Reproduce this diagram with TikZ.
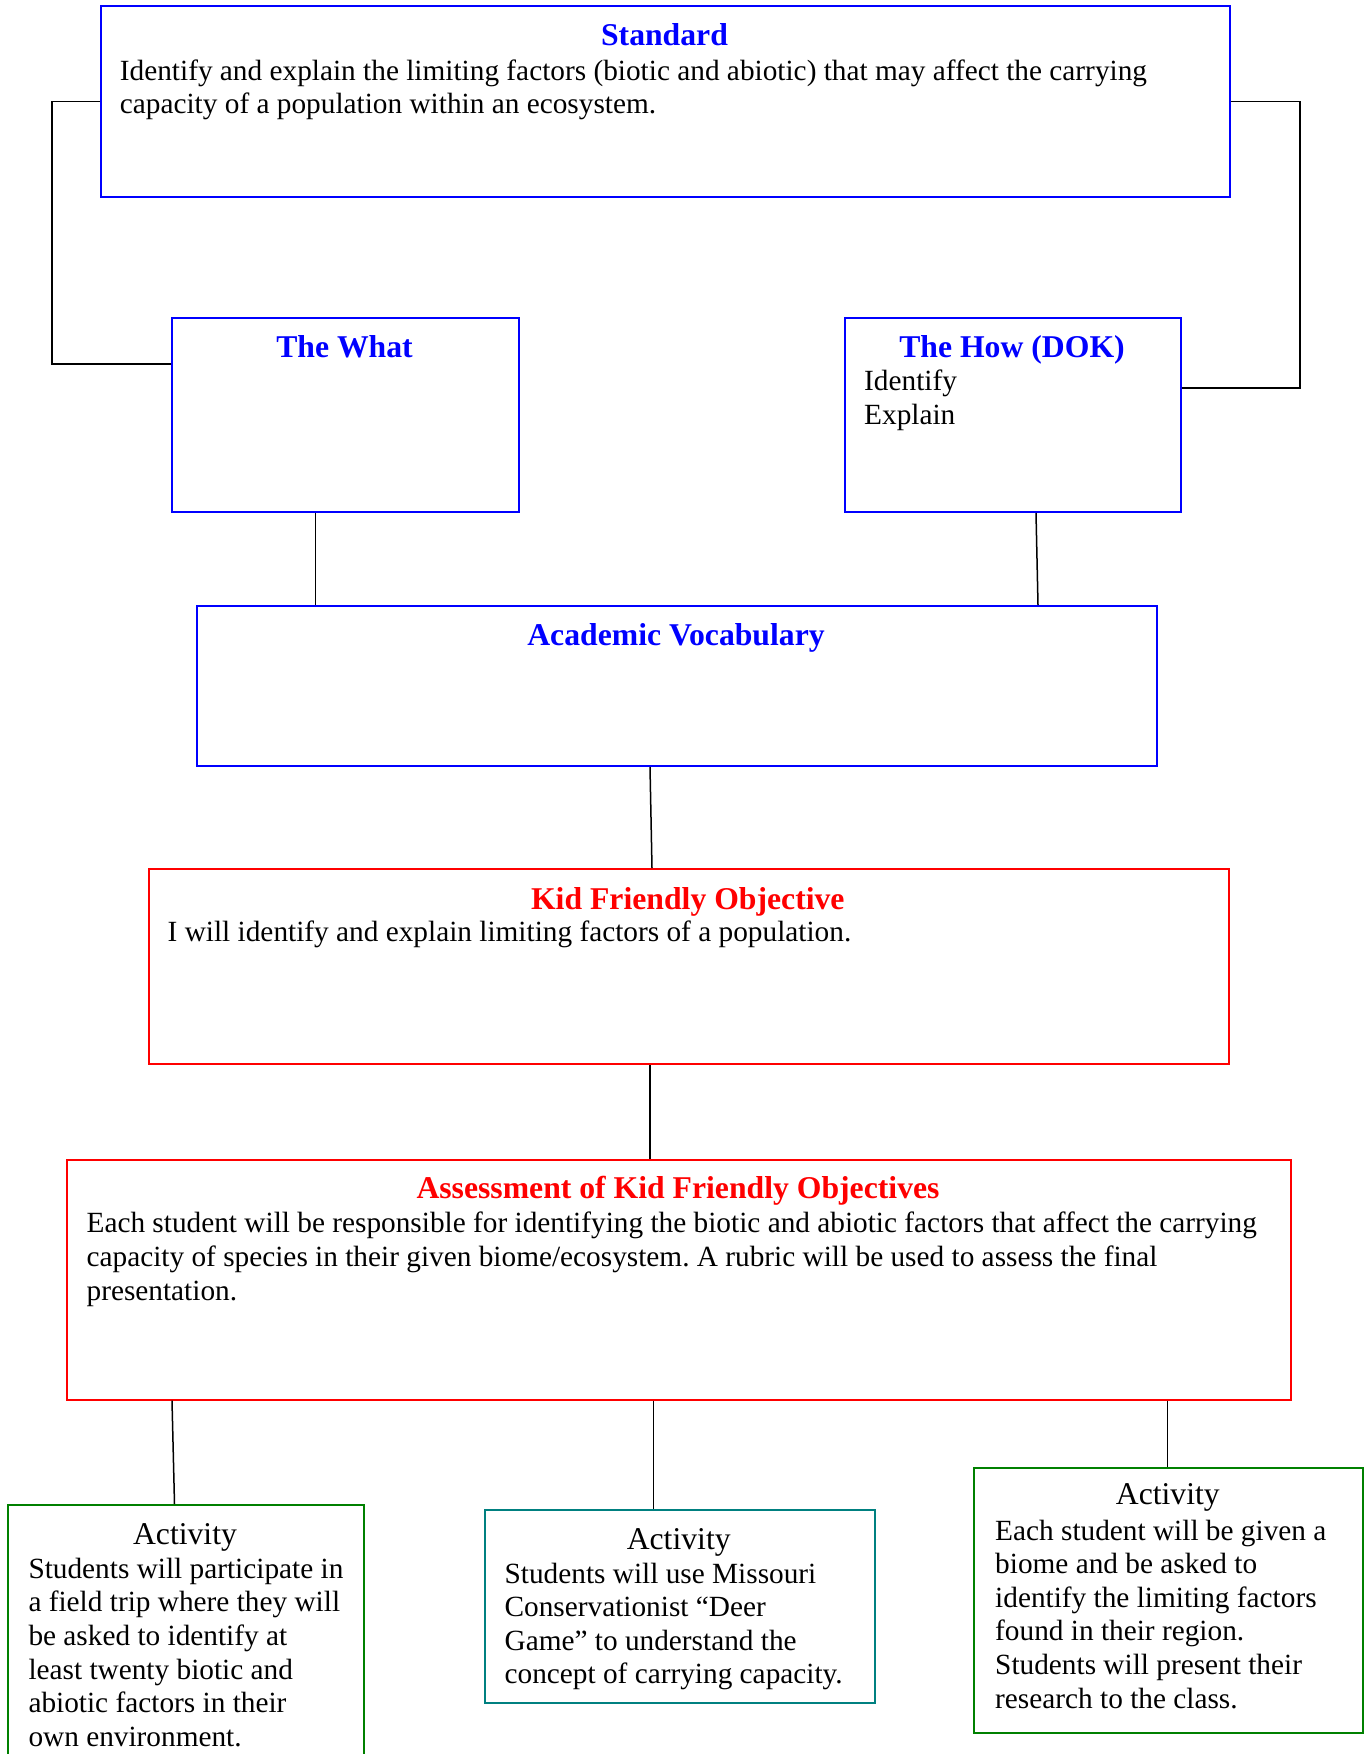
\documentclass[tikz,border=0pt]{standalone}
\usepackage{fontspec}
\setmainfont{Liberation Serif}
\frenchspacing
\newcommand\bodyf{\fontsize{29.3}{33.6}\selectfont}
\newcommand\headf{\fontsize{31.7}{36}\selectfont}
\definecolor{kblue}{RGB}{0,0,255}
\definecolor{kred}{RGB}{255,0,0}
\definecolor{kgreen}{RGB}{0,128,0}
\definecolor{kteal}{RGB}{0,128,128}
\begin{document}
\begin{tikzpicture}[x=1pt,y=-1pt,
  box/.style={draw, line width=2pt, inner sep=0, anchor=north west},
  conn/.style={line width=1.5pt, black},
  ttl/.style={anchor=base, inner sep=0, font=\headf\bfseries},
  acttl/.style={anchor=base, inner sep=0, font=\headf},
  txt/.style={anchor=base west, inner sep=0}]
\clip (0,0) rectangle (1368,1754);
\fill[white] (0,0) rectangle (1368,1754);
% boxes
\node[box, kblue, minimum width=1129pt, minimum height=191.5pt] (std) at (100,4.5) {};
\node[box, kblue, minimum width=347pt, minimum height=194.5pt] (what) at (171,316.5) {};
\node[box, kblue, minimum width=336pt, minimum height=194.5pt] (how) at (844,316.5) {};
\node[box, kblue, minimum width=960pt, minimum height=160pt] (acad) at (196,605) {};
\node[box, kred, minimum width=1080.5pt, minimum height=195pt] (kfo) at (147.5,868) {};
\node[box, kred, minimum width=1224pt, minimum height=239.5pt] (assess) at (66,1159) {};
\node[box, kgreen, minimum width=356pt, minimum height=300pt] (act1) at (7,1504) {};
\node[box, kteal, minimum width=389.5pt, minimum height=192.6pt] (act2) at (484,1509.4) {};
\node[box, kgreen, minimum width=389pt, minimum height=265pt] (act3) at (973.3,1466.7) {};
% connectors
\coordinate (lk) at (52,364);
\coordinate (rk) at (1300,388);
\draw[conn] (std.west) -| (lk) -- (what.west |- lk);
\draw[conn] (std.east) -| (rk) -- (how.east |- rk);
\draw[conn] ([xshift=144.5]what.south west) -- ([xshift=119.5]acad.north west);
\draw[conn] ([xshift=192]how.south west) -- ([xshift=842]acad.north west);
\draw[conn] ([xshift=454]acad.south west) -- ([xshift=504.5]kfo.north west);
\draw[conn] ([xshift=502.5]kfo.south west) -- ([xshift=584]assess.north west);
\draw[conn] ([xshift=106]assess.south west) -- ([xshift=167.5]act1.north west);
\draw[conn] ([xshift=587.6]assess.south west) -- ([xshift=169.6]act2.north west);
\draw[conn] ([xshift=1101.5]assess.south west) -- ([xshift=194.2]act3.north west);
% texts
\node[ttl, kblue] (stdT) at (664.5,45) {Standard};
\node[txt] (stdB) at (119.7,80) {\parbox[t]{1100pt}{\bodyf Identify and explain the limiting factors (biotic and abiotic) that may affect the carrying\\capacity of a population within an ecosystem.}};
\node[ttl, kblue] (whatT) at (344.5,357.5) {The What};
\node[ttl, kblue] (howT) at (1012,357.5) {The How (DOK)};
\node[txt] (howB) at (864,390.5) {\parbox[t]{300pt}{\bodyf Identify\\Explain}};
\node[ttl, kblue] (acadT) at (676,645) {Academic Vocabulary};
\node[ttl, kred] (kfoT) at (687.8,909) {Kid Friendly Objective};
\node[txt] (kfoB) at (167.5,941) {\parbox[t]{1000pt}{\bodyf I will identify and explain limiting factors of a population.}};
\node[ttl, kred] (assT) at (678,1198.5) {Assessment of Kid Friendly Objectives};
\node[txt] (assB) at (86.4,1232.4) {\parbox[t]{1250pt}{\fontsize{29.3}{34.2}\selectfont Each student will be responsible for identifying the biotic and abiotic factors that affect the carrying\\capacity of species in their given biome/ecosystem. A rubric will be used to assess the final\\presentation.}};
\node[acttl] (act1T) at (185,1544) {Activity};
\node[txt] (act1B) at (28.3,1578.3) {\parbox[t]{400pt}{\bodyf Students will participate in\\a field trip where they will\\be asked to identify at\\least twenty biotic and\\abiotic factors in their\\own environment.}};
\node[acttl] (act2T) at (678.7,1549.3) {Activity};
\node[txt] (act2B) at (504.4,1583) {\parbox[t]{400pt}{\bodyf Students will use Missouri\\Conservationist “Deer\\Game” to understand the\\concept of carrying capacity.}};
\node[acttl] (act3T) at (1167.8,1504.7) {Activity};
\node[txt] (act3B) at (995,1540) {\parbox[t]{400pt}{\bodyf Each student will be given a\\biome and be asked to\\identify the limiting factors\\found in their region.\\Students will present their\\research to the class.}};
\end{tikzpicture}
\end{document}
